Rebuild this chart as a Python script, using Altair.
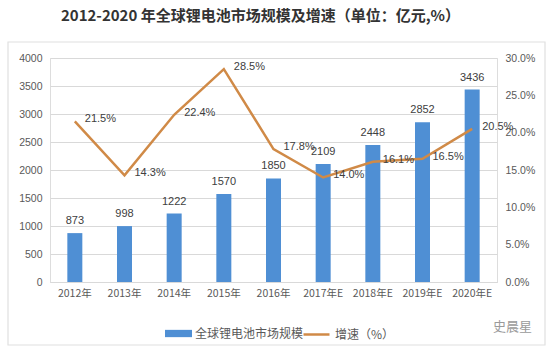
import altair as alt
import pandas as pd

years = ["2012年", "2013年", "2014年", "2015年", "2016年", "2017年E", "2018年E", "2019年E", "2020年E"]
market = [873, 998, 1222, 1570, 1850, 2109, 2448, 2852, 3436]
growth = [21.5, 14.3, 22.4, 28.5, 17.8, 14.0, 16.1, 16.5, 20.5]
left_ticks = [0, 500, 1000, 1500, 2000, 2500, 3000, 3500, 4000]
right_ticks = [0, 5, 10, 15, 20, 25, 30]

bar_name = "全球锂电池市场规模"
line_name = "增速（%）"

df = pd.DataFrame({"year": years, "market": market, "growth": growth})

FONT = "Liberation Sans"
CJK = "Noto Sans CJK SC"
BAR = "#4F8FD4"
LINE = "#D08A47"
GRID = "#D9D9D9"
LAB = "#595959"

x_enc = alt.X("year:N", sort=years,
              scale=alt.Scale(paddingInner=0, paddingOuter=0),
              axis=alt.Axis(title=None, labelAngle=0, ticks=False, domainColor=GRID,
                            labelColor=LAB, labelFontSize=10.5, labelFont=CJK,
                            labelPadding=6, grid=False))

y_left = alt.Y("market:Q", scale=alt.Scale(domain=[0, 4000]),
               axis=alt.Axis(title=None, values=left_ticks, format="d", ticks=False,
                             domain=False, labelOverlap=False, labelFlush=False,
                             gridColor=GRID, labelColor=LAB, labelFontSize=10.5, labelFont=FONT,
                             labelPadding=8))

y_right = alt.Y("growth:Q", scale=alt.Scale(domain=[0, 30]),
                axis=alt.Axis(title=None, orient="right", values=right_ticks,
                              labelExpr="format(datum.value, '.1f') + '%'", ticks=False, domain=False,
                              labelOverlap=False, labelFlush=False,
                              grid=False, labelColor=LAB, labelFontSize=10.5, labelFont=FONT,
                              labelPadding=8))

base = alt.Chart(df)

bars = base.mark_bar(size=15, color=BAR).transform_calculate(series=f"'{bar_name}'").encode(
    x=x_enc,
    y=y_left,
    color=alt.Color("series:N", scale=alt.Scale(range=[BAR]),
                    legend=alt.Legend(title=None, orient="none", legendX=115, legendY=38 + 224,
                                      symbolType="M-1,-0.27H1V0.27H-1Z", symbolSize=729,
                                      symbolStrokeWidth=0, labelFont=CJK, labelFontSize=12,
                                      labelColor=LAB, labelOffset=3)),
)

bar_text = base.mark_text(baseline="bottom", dy=-7, font=FONT, fontSize=11, color="#404040").encode(
    x=x_enc,
    y=y_left,
    text=alt.Text("market:Q"),
)

left = alt.layer(bars, bar_text)

line = base.mark_line(strokeWidth=2.5, color=LINE).transform_calculate(series=f"'{line_name}'").encode(
    x=x_enc,
    y=y_right,
    stroke=alt.Stroke("series:N", scale=alt.Scale(range=[LINE]),
                      legend=alt.Legend(title=None, orient="none", legendX=252, legendY=38 + 224,
                                        symbolType="stroke", symbolSize=676, symbolStrokeWidth=2.5,
                                        labelFont=CJK, labelFontSize=12, labelColor=LAB,
                                        labelOffset=4)),
)

line_text = base.mark_text(align="left", dx=10, dy=-2, font=FONT, fontSize=11, color="#404040").encode(
    x=x_enc,
    y=y_right,
    text=alt.Text("label:N"),
).transform_calculate(label="format(datum.growth, '.1f') + '%'")

right = alt.layer(line, line_text)

frame = alt.Chart(alt.Data(values=[{"a": 1}])).mark_rect(filled=False, stroke="#E0E0E0", strokeWidth=1.2).encode(
    x=alt.value(-42), x2=alt.value(495), y=alt.value(-16), y2=alt.value(287)
)

watermark = alt.Chart(alt.Data(values=[{"t": "史晨星"}])).mark_text(
    align="left", baseline="middle", font=CJK, fontSize=13, color="#9A9A9A"
).encode(x=alt.value(443), y=alt.value(269), text="t:N")

chart = alt.layer(frame, left, right, watermark).resolve_scale(
    y="independent", color="independent", stroke="independent"
).properties(
    width=447, height=224,
    autosize=alt.AutoSizeParams(type="none"),
    padding={"left": 50, "top": 58, "right": 53, "bottom": 72},
    title=alt.Title("2012-2020 年全球锂电池市场规模及增速（单位：亿元,%）",
                    font=CJK, fontSize=15, fontWeight="bold", color="#333333",
                    anchor="middle", frame="group", offset=17, dx=-13),
).configure_view(stroke=None).configure(background="white")

chart.save("out.html", embed_options={"renderer": "svg", "actions": False})
